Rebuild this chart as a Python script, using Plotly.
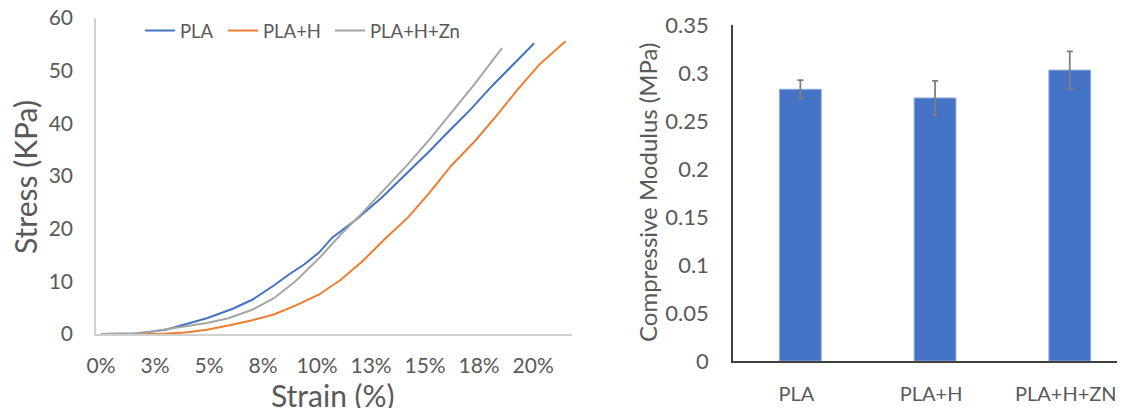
import plotly.graph_objects as go

# ---- Left chart data (strain in %, stress in KPa) ----
pla_strain = [0, 1.7, 3.0, 3.9, 4.9, 6.1, 7.0, 8.0, 8.7, 9.4, 10.1, 10.7, 11.8, 13.0, 14.2, 15.2, 16.1, 17.1, 18.1, 19.1, 20.05]
pla_stress = [0, 0.1, 0.8, 1.8, 3.0, 4.8, 6.5, 9.2, 11.3, 13.2, 15.5, 18.3, 21.7, 25.9, 30.7, 34.7, 38.5, 42.6, 47.1, 51.2, 55.2]

plah_strain = [0, 1.5, 2.7, 3.9, 4.9, 5.9, 7.0, 8.0, 9.0, 10.1, 11.1, 12.1, 13.1, 14.2, 15.2, 16.2, 17.3, 18.3, 19.3, 20.3, 21.5]
plah_stress = [0, 0, 0, 0.3, 0.8, 1.6, 2.6, 3.7, 5.4, 7.5, 10.3, 13.8, 17.9, 22.1, 26.8, 31.9, 36.6, 41.4, 46.5, 51.2, 55.6]

plahzn_strain = [0, 1.5, 2.2, 3.4, 4.9, 5.9, 7.0, 8.0, 9.0, 10.1, 11.1, 12.1, 13.1, 14.2, 15.2, 16.2, 17.3, 18.56]
plahzn_stress = [0, 0.1, 0.4, 1.1, 2.1, 3.0, 4.6, 6.8, 10.0, 14.4, 18.9, 23.0, 27.4, 32.2, 36.9, 42.0, 47.5, 54.3]

strain_tickvals = [0, 2.5, 5, 7.5, 10, 12.5, 15, 17.5, 20]
strain_ticktext = ["0%", "3%", "5%", "8%", "10%", "13%", "15%", "18%", "20%"]
stress_tickvals = [0, 10, 20, 30, 40, 50, 60]

# ---- Right chart data ----
categories = ["PLA", "PLA+H", "PLA+H+ZN"]
modulus = [0.283, 0.274, 0.303]
modulus_err = [0.0095, 0.0178, 0.0195]
modulus_tickvals = [0, 0.05, 0.1, 0.15, 0.2, 0.25, 0.3, 0.35]
modulus_ticktext = ["0", "0.05", "0.1", "0.15", "0.2", "0.25", "0.3", "0.35"]

FONT = "Lato"
TXT = "#595959"
OFF = 8  # default page body margin
W, H = 1125 - OFF, 408 - OFF

def px_x(p):
    return (p - OFF) / W

def px_y(p):
    return (H - (p - OFF)) / H

fig = go.Figure()
fig.add_trace(go.Scatter(x=pla_strain, y=pla_stress, name="PLA", mode="lines",
                         line=dict(color="#4472C4", width=2), xaxis="x", yaxis="y",
                         legend="legend"))
fig.add_trace(go.Scatter(x=plah_strain, y=plah_stress, name="PLA+H", mode="lines",
                         line=dict(color="#ED7D31", width=2), xaxis="x", yaxis="y",
                         legend="legend2"))
fig.add_trace(go.Scatter(x=plahzn_strain, y=plahzn_stress, name="PLA+H+Zn", mode="lines",
                         line=dict(color="#A5A5A5", width=2), xaxis="x", yaxis="y",
                         legend="legend3"))
fig.add_trace(go.Bar(x=categories, y=modulus, showlegend=False,
                     marker=dict(color="#4472C4", line=dict(color="#8FAADC", width=1)),
                     error_y=dict(type="data", array=modulus_err, visible=True,
                                  color="#7F7F7F", thickness=1.8, width=3),
                     xaxis="x2", yaxis="y2"))

def leg(xpx):
    return dict(orientation="h", x=px_x(xpx), y=px_y(12), xanchor="left", yanchor="top",
                font=dict(size=18.5, color=TXT), bgcolor="rgba(0,0,0,0)",
                itemwidth=30, tracegroupgap=0)

fig.update_layout(
    width=W, height=H,
    margin=dict(l=0, r=0, t=0, b=0),
    paper_bgcolor="white", plot_bgcolor="white",
    font=dict(family=FONT, color=TXT),
    bargap=0.69,
    xaxis=dict(domain=[px_x(96), px_x(572)], range=[-0.23, 21.8],
               tickvals=strain_tickvals, ticktext=strain_ticktext,
               showgrid=False, zeroline=False, showline=True, linecolor="#D0D0D0", linewidth=1.5,
               ticks="outside", ticklen=12, tickcolor="rgba(0,0,0,0)",
               tickfont=dict(size=21, color=TXT), automargin=False,
               ticklabeloverflow="allow"),
    yaxis=dict(domain=[px_y(334), px_y(18)], range=[0, 60],
               tickvals=stress_tickvals,
               showgrid=False, zeroline=False, showline=True, linecolor="#D0D0D0", linewidth=1.5,
               ticks="outside", ticklen=17, tickcolor="rgba(0,0,0,0)",
               tickfont=dict(size=21, color=TXT), automargin=False,
               ticklabeloverflow="allow"),
    xaxis2=dict(domain=[px_x(733), 1.0], range=[-0.5, 2.41], anchor="y2",
                showgrid=False, zeroline=False, showline=True, linecolor="#404040", linewidth=1.5,
                ticks="outside", ticklen=14, tickcolor="rgba(0,0,0,0)",
                tickfont=dict(size=20, color=TXT), automargin=False,
                ticklabeloverflow="allow", ticklabelshift=-4),
    yaxis2=dict(domain=[px_y(361), px_y(25)], range=[0, 0.35], anchor="x2",
                tickvals=modulus_tickvals, ticktext=modulus_ticktext,
                showgrid=False, zeroline=False, showline=True, linecolor="#404040", linewidth=1.5,
                ticks="outside", ticklen=18, tickcolor="rgba(0,0,0,0)",
                tickfont=dict(size=22, color=TXT), automargin=False,
                ticklabeloverflow="allow"),
    legend=leg(140),
    legend2=leg(223),
    legend3=leg(330),
    annotations=[
        dict(text="Stress (KPa)", x=px_x(25), y=px_y(177), xref="paper", yref="paper",
             textangle=-90, showarrow=False, font=dict(size=30, color=TXT),
             xanchor="center", yanchor="middle"),
        dict(text="Strain (%)", x=px_x(333), y=px_y(395), xref="paper", yref="paper",
             showarrow=False, font=dict(size=30, color=TXT),
             xanchor="center", yanchor="middle"),
        dict(text="Compressive Modulus (MPa)", x=px_x(647), y=px_y(193), xref="paper", yref="paper",
             textangle=-90, showarrow=False, font=dict(size=24, color=TXT),
             xanchor="center", yanchor="middle"),
    ],
)

fig.write_html("out.html")
